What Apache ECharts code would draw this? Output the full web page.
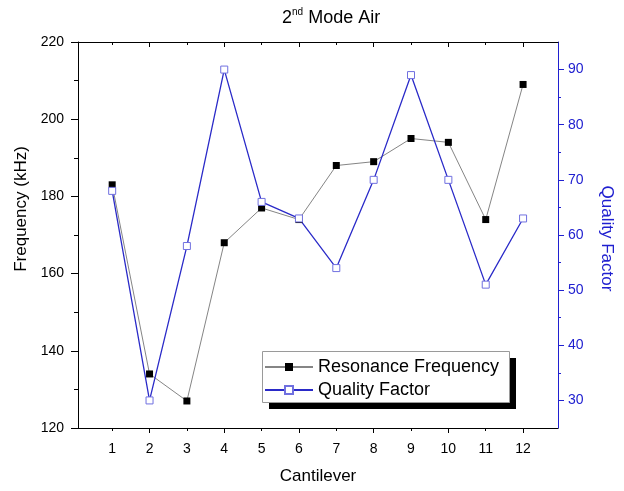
<!DOCTYPE html>
<html>
<head>
<meta charset="utf-8">
<script src="https://cdn.jsdelivr.net/npm/echarts@6/dist/echarts.min.js"></script>
<style>html,body{margin:0;padding:0;background:#fff}#c{width:624px;height:491px}</style>
</head>
<body>
<div id="c"></div>
<script>
var cantilever = [1, 2, 3, 4, 5, 6, 7, 8, 9, 10, 11, 12];
var frequency = [183, 134, 127, 168, 177, 174, 188, 189, 195, 194, 174, 209];
var qualityFactor = [68, 30, 58, 90, 66, 63, 54, 70, 89, 70, 51, 63];
var xMajorTicks = [2, 4, 6, 8, 10, 12];
var xMinorTicks = [1, 3, 5, 7, 9, 11];
var qMajorTicks = [30, 40, 50, 60, 70, 80, 90];
var qMinorTicks = [35, 45, 55, 65, 75, 85];

var FONT = 'Arial, "Liberation Sans", sans-serif';
var BLUE = '#2020d0';

function pairs(ys) { return cantilever.map(function (x, i) { return [x, ys[i]]; }); }

var chart = echarts.init(document.getElementById('c'), null, { renderer: 'canvas' });
var xMin = 0.085, xMax = 12.935;
chart.setOption({
  animation: false,
  backgroundColor: '#fff',
  title: {
    text: '{a|2}{b|nd}{a| Mode Air}',
    left: 282, top: 7, padding: 0,
    textStyle: {
      fontWeight: 'normal',
      rich: {
        a: { fontSize: 18, fontFamily: FONT, fontWeight: 'normal', color: '#000', lineHeight: 22 },
        b: { fontSize: 10, fontFamily: FONT, fontWeight: 'normal', color: '#000', verticalAlign: 'top', lineHeight: 12 }
      }
    }
  },
  graphic: [
    { type: 'rect', z: 3, silent: true, shape: { x: 269, y: 358, width: 247, height: 51 }, style: { fill: '#000' } },
    { type: 'rect', z: 3, silent: true, shape: { x: 262.5, y: 351.5, width: 247, height: 51 }, style: { fill: '#fff', stroke: '#9a9a9a', lineWidth: 1 } }
  ],
  legend: {
    orient: 'vertical', left: 262, top: 352, z: 5,
    padding: [6, 4, 4, 2],
    itemWidth: 48, itemHeight: 10, itemGap: 5,
    backgroundColor: 'transparent', borderWidth: 0,
    textStyle: { fontSize: 18, fontFamily: FONT, color: '#000', lineHeight: 18 },
    data: ['Resonance Frequency', 'Quality Factor']
  },
  grid: { left: 78, right: 66, top: 42, bottom: 63, containLabel: false },
  xAxis: [
    {
      type: 'value', position: 'bottom', min: xMin, max: xMax,
      name: 'Cantilever', nameLocation: 'middle', nameGap: 40,
      nameTextStyle: { fontSize: 17, fontFamily: FONT, color: '#000' },
      axisLine: { show: true, lineStyle: { color: '#000', width: 1 } },
      axisTick: { show: true, inside: false, length: 5, customValues: xMajorTicks, lineStyle: { color: '#000' } },
      axisLabel: { show: true, customValues: cantilever, margin: 14, fontSize: 14, fontFamily: FONT, color: '#000' },
      splitLine: { show: false }
    },
    {
      type: 'value', position: 'bottom', min: xMin, max: xMax,
      axisLine: { show: false },
      axisTick: { show: true, inside: false, length: 3, customValues: xMinorTicks, lineStyle: { color: '#000' } },
      axisLabel: { show: false },
      splitLine: { show: false }
    },
    {
      type: 'value', position: 'top', min: xMin, max: xMax,
      axisLine: { show: true, lineStyle: { color: '#000', width: 1 } },
      axisTick: { show: true, inside: true, length: 5, customValues: xMajorTicks, lineStyle: { color: '#000' } },
      axisLabel: { show: false },
      splitLine: { show: false }
    },
    {
      type: 'value', position: 'top', min: xMin, max: xMax,
      axisLine: { show: false },
      axisTick: { show: true, inside: true, length: 3, customValues: xMinorTicks, lineStyle: { color: '#000' } },
      axisLabel: { show: false },
      splitLine: { show: false }
    }
  ],
  yAxis: [
    {
      type: 'value', position: 'left', min: 120, max: 220, interval: 20,
      name: 'Frequency (kHz)', nameLocation: 'middle', nameGap: 47,
      nameTextStyle: { fontSize: 17, fontFamily: FONT, color: '#000', padding: [0, 0, 0, 52] },
      axisLine: { show: true, lineStyle: { color: '#000', width: 1 } },
      axisTick: { show: true, inside: false, length: 7, lineStyle: { color: '#000' } },
      minorTick: { show: true, splitNumber: 2, length: 4, lineStyle: { color: '#000' } },
      axisLabel: { margin: 14, fontSize: 14, fontFamily: FONT, color: '#000' },
      splitLine: { show: false }
    },
    {
      type: 'value', position: 'right', min: 25, max: 95,
      name: 'Quality Factor', nameLocation: 'middle', nameGap: 40, nameRotate: -90,
      nameTextStyle: { fontSize: 17, fontFamily: FONT, color: BLUE, padding: [0, 0, 0, 7] },
      axisLine: { show: true, lineStyle: { color: BLUE, width: 1 } },
      axisTick: { show: true, inside: false, length: 6, customValues: qMajorTicks, lineStyle: { color: BLUE } },
      axisLabel: { customValues: qMajorTicks, margin: 10, fontSize: 14, fontFamily: FONT, color: BLUE },
      splitLine: { show: false }
    },
    {
      type: 'value', position: 'right', min: 25, max: 95,
      axisLine: { show: false },
      axisTick: { show: true, inside: false, length: 3, customValues: qMinorTicks, lineStyle: { color: BLUE } },
      axisLabel: { show: false },
      splitLine: { show: false }
    }
  ],
  series: [
    {
      name: 'Resonance Frequency', type: 'line', xAxisIndex: 0, yAxisIndex: 0,
      data: pairs(frequency),
      symbol: 'rect', symbolSize: 7,
      lineStyle: { color: '#858585', width: 1 },
      itemStyle: { color: '#000', borderWidth: 0 },
      emphasis: { disabled: true }
    },
    {
      name: 'Quality Factor', type: 'line', xAxisIndex: 0, yAxisIndex: 1,
      data: pairs(qualityFactor),
      symbol: 'rect', symbolSize: 7,
      lineStyle: { color: '#2a2ac8', width: 1.3 },
      itemStyle: { color: '#fff', borderColor: '#7070e0', borderWidth: 1 },
      emphasis: { disabled: true }
    }
  ]
});
</script>
</body>
</html>
